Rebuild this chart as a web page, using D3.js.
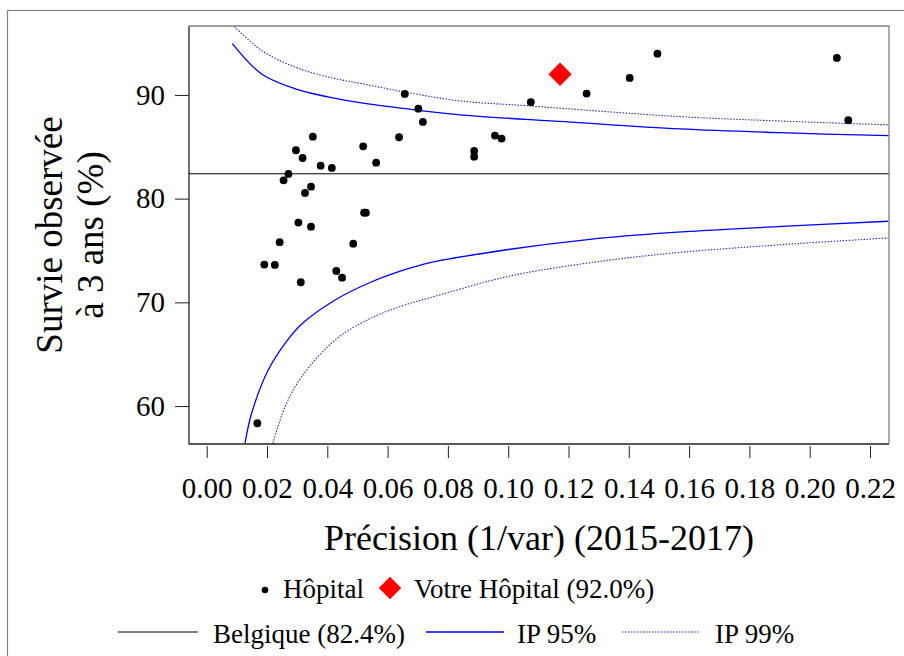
<!DOCTYPE html>
<html>
<head>
<meta charset="utf-8">
<script src="https://cdnjs.cloudflare.com/ajax/libs/d3/7.8.5/d3.min.js"></script>
<style>
  body { margin: 0; background: #fff; }
  text { font-family: "Liberation Serif", "Times New Roman", serif; fill: #000; }
</style>
</head>
<body>
<div id="chart"></div>
<script>
// hospitals: precision (1/var) and observed 3 year survival (%)
var precision = [0.0657, 0.0702, 0.0717, 0.0352, 0.0638, 0.0519, 0.0296, 0.0318, 0.0562, 0.0378,
                 0.0415, 0.0271, 0.0255, 0.0346, 0.0326, 0.0522, 0.0528, 0.0304, 0.0346, 0.0242,
                 0.0486, 0.0191, 0.0226, 0.0430, 0.0449, 0.0312, 0.0168, 0.1260, 0.1403, 0.1075,
                 0.0956, 0.0978, 0.0887, 0.0887, 0.1495, 0.2090, 0.2128];
var survival = [90.1, 88.68, 87.4, 85.98, 85.92, 85.05, 84.67, 83.92, 83.47, 83.18,
                82.96, 82.38, 81.77, 81.16, 80.55, 78.65, 78.65, 77.69, 77.3, 75.8,
                75.66, 73.64, 73.61, 73.03, 72.38, 71.94, 58.34, 90.13, 91.64, 89.3,
                86.08, 85.79, 84.6, 84.05, 93.98, 93.57, 87.56];

// your hospital
var ownPrecision = 0.1172;
var ownSurvival = 92.0;

// national reference
var belgique = 82.4;

// funnel limits
var up95x = [0.0085, 0.0181, 0.0292, 0.0402, 0.0513, 0.0624, 0.0833, 0.1188, 0.1570, 0.1901, 0.2267];
var up95y = [94.95, 92.05, 90.61, 89.81, 89.23, 88.81, 88.10, 87.42, 86.72, 86.36, 86.07];
var up99x = [0.0085, 0.0181, 0.0292, 0.0402, 0.0513, 0.0657, 0.0833, 0.1072, 0.1570, 0.1901, 0.2267];
var up99y = [96.8, 94.31, 92.70, 91.74, 91.09, 90.29, 89.45, 88.94, 87.91, 87.49, 87.11];
var lo95x = [0.0127, 0.0149, 0.0204, 0.0260, 0.0315, 0.0426, 0.0536, 0.0647, 0.0741, 0.1006, 0.1271, 0.1537, 0.1891, 0.2261];
var lo95y = [56.40, 59.30, 63.47, 66.05, 67.91, 70.23, 71.84, 73.05, 73.83, 75.12, 76.08, 76.72, 77.30, 77.82];
var lo99x = [0.0219, 0.0260, 0.0315, 0.0426, 0.0536, 0.0647, 0.0741, 0.1006, 0.1271, 0.1537, 0.1891, 0.2261];
var lo99y = [56.40, 59.93, 62.83, 66.37, 68.36, 69.65, 70.45, 72.54, 73.82, 74.73, 75.53, 76.21];

var xTicks = [0, 0.02, 0.04, 0.06, 0.08, 0.10, 0.12, 0.14, 0.16, 0.18, 0.20, 0.22];
var yTicks = [60, 70, 80, 90];

//plot box
var boxLeft = 189, boxRight = 889, boxTop = 26, boxBottom = 444;

var svg = d3.select("#chart")
    .append("svg")
    .attr("width", 904)
    .attr("height", 656);

svg.append("rect")
    .attr("width", 904)
    .attr("height", 656)
    .attr("fill", "#fff");

//outer frame (runs off the page on the right and bottom)
svg.append("rect")
    .attr("x", 7.5)
    .attr("y", 10.5)
    .attr("width", 1000)
    .attr("height", 1000)
    .attr("fill", "none")
    .attr("stroke", "#808080")
    .attr("stroke-width", 1.2);

var x = d3.scaleLinear().domain([-0.00587, 0.2263]).range([boxLeft, boxRight]);
var y = d3.scaleLinear().domain([56.34, 96.65]).range([boxBottom, boxTop]);

svg.append("clipPath")
    .attr("id", "clip")
    .append("rect")
    .attr("x", boxLeft)
    .attr("y", boxTop)
    .attr("width", boxRight - boxLeft)
    .attr("height", boxBottom - boxTop);

var plot = svg.append("g").attr("clip-path", "url(#clip)");

//Belgique line
plot.append("line")
    .attr("x1", boxLeft)
    .attr("x2", boxRight)
    .attr("y1", y(belgique))
    .attr("y2", y(belgique))
    .attr("stroke", "#000")
    .attr("stroke-width", 1);

var line = d3.line()
    .x(function(d) { return x(d[0]); })
    .y(function(d) { return y(d[1]); })
    .curve(d3.curveCatmullRom.alpha(0.5));

function pairs(xs, ys) {
    return xs.map(function(v, i) { return [v, ys[i]]; });
}

var limits = [
    {data: pairs(up95x, up95y), dotted: false},
    {data: pairs(lo95x, lo95y), dotted: false},
    {data: pairs(up99x, up99y), dotted: true},
    {data: pairs(lo99x, lo99y), dotted: true}
];

limits.forEach(function(l) {
    plot.append("path")
        .attr("d", line(l.data))
        .attr("fill", "none")
        .attr("stroke", l.dotted ? "#2a2ab0" : "#0000ff")
        .attr("stroke-width", l.dotted ? 1.1 : 1.3)
        .attr("stroke-dasharray", l.dotted ? "1.5,1.5" : null);
});

//hospitals
plot.selectAll("circle.hosp")
    .data(precision)
    .enter()
    .append("circle")
    .attr("class", "hosp")
    .attr("cx", function(d) { return x(d); })
    .attr("cy", function(d, i) { return y(survival[i]); })
    .attr("r", 3.9)
    .attr("fill", "#000");

//your hospital
var diamond = d3.symbol().type(d3.symbolSquare).size(272);
plot.append("path")
    .attr("d", diamond())
    .attr("transform", "translate(" + x(ownPrecision) + "," + y(ownSurvival) + ") rotate(45)")
    .attr("fill", "#ff0000");

//box
svg.append("path")
    .attr("d", "M" + boxLeft + "," + boxTop + "V" + boxBottom + "H" + boxRight)
    .attr("fill", "none")
    .attr("stroke", "#222")
    .attr("stroke-width", 1.3);
svg.append("path")
    .attr("d", "M" + boxLeft + "," + boxTop + "H" + boxRight + "V" + boxBottom)
    .attr("fill", "none")
    .attr("stroke", "#808080")
    .attr("stroke-width", 1.3);

//axes
var xAxis = d3.axisBottom(x)
    .tickValues(xTicks)
    .tickSize(12)
    .tickPadding(19)
    .tickFormat(d3.format(".2f"));
var gx = svg.append("g")
    .attr("transform", "translate(0," + (boxBottom + 2) + ")")
    .call(xAxis);
gx.select(".domain").remove();
gx.selectAll("text").attr("font-size", 29).attr("font-family", null);
gx.selectAll("line").attr("stroke", "#222");

var yAxis = d3.axisLeft(y)
    .tickValues(yTicks)
    .tickSize(14)
    .tickPadding(10);
var gy = svg.append("g")
    .attr("transform", "translate(" + boxLeft + ",0)")
    .call(yAxis);
gy.select(".domain").remove();
gy.selectAll("text").attr("font-size", 29).attr("font-family", null);
gy.selectAll("line").attr("stroke", "#222");

//axis titles
svg.append("text")
    .attr("x", (boxLeft + boxRight) / 2)
    .attr("y", 550)
    .attr("text-anchor", "middle")
    .attr("font-size", 36)
    .text("Précision (1/var) (2015-2017)");

var ytitle = svg.append("text")
    .attr("transform", "translate(0," + ((boxTop + boxBottom) / 2) + ") rotate(-90)")
    .attr("text-anchor", "middle")
    .attr("font-size", 37);
ytitle.append("tspan").attr("x", 0).attr("y", 62).text("Survie observée");
ytitle.append("tspan").attr("x", 0).attr("y", 103).text("à 3 ans (%)");

//legend row 1
var leg = svg.append("g").attr("font-size", 27);
leg.append("circle")
    .attr("cx", 265)
    .attr("cy", 590)
    .attr("r", 3.3)
    .attr("fill", "#000");
leg.append("text").attr("x", 283).attr("y", 598).text("Hôpital");
leg.append("path")
    .attr("d", d3.symbol().type(d3.symbolSquare).size(250)())
    .attr("transform", "translate(390,588) rotate(45)")
    .attr("fill", "#ff0000");
leg.append("text").attr("x", 414).attr("y", 598).text("Votre Hôpital (92.0%)");

//legend row 2
leg.append("line")
    .attr("x1", 118).attr("x2", 198).attr("y1", 632).attr("y2", 632)
    .attr("stroke", "#000").attr("stroke-width", 1);
leg.append("text").attr("x", 213).attr("y", 643).text("Belgique (82.4%)");
leg.append("line")
    .attr("x1", 426).attr("x2", 504).attr("y1", 632).attr("y2", 632)
    .attr("stroke", "#0000ff").attr("stroke-width", 1.3);
leg.append("text").attr("x", 517).attr("y", 643).text("IP 95%");
leg.append("line")
    .attr("x1", 622).attr("x2", 700).attr("y1", 632).attr("y2", 632)
    .attr("stroke", "#2a2ab0").attr("stroke-width", 1.1)
    .attr("stroke-dasharray", "1.5,1.5");
leg.append("text").attr("x", 715).attr("y", 643).text("IP 99%");
</script>
</body>
</html>
